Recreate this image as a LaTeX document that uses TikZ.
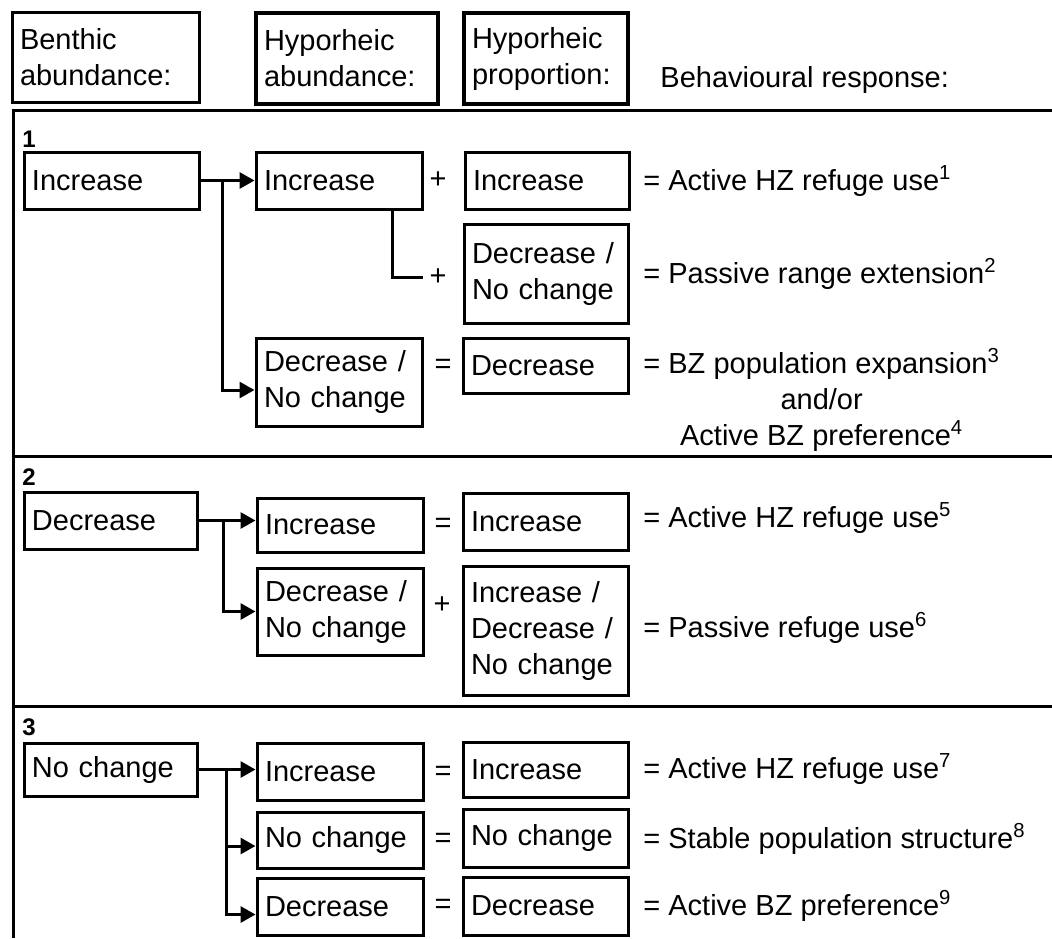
\documentclass[tikz,border=0pt]{standalone}
\usepackage{fontspec}
\setmainfont{Liberation Sans}
\usetikzlibrary{arrows.meta}
\newcommand\bx[7][box]{%
  \pgfmathsetmacro\bxw{(#5-#3)*0.5-8}%
  \pgfmathsetmacro\bxh{(#6-#4)*0.5}%
  \node[#1, text width=\bxw pt, minimum height=\bxh pt] (#2) at ({(#3+#5)/2},{(#4+#6)/2}) {#7};}
\begin{document}
\begin{tikzpicture}[x=0.5pt,y=-0.5pt,
  every node/.style={font=\fontsize{14.5}{18}\selectfont},
  box/.style={draw, line width=1.5pt, align=left, inner xsep=4pt, inner ysep=0pt},
  hbox/.style={box, line width=2pt},
  sym/.style={inner sep=1pt},
  resp/.style={anchor=base west, inner sep=0pt},
  num/.style={anchor=base west, inner sep=0pt, font=\fontsize{12}{14}\selectfont\bfseries},
  conn/.style={line width=1.5pt, -{Triangle[length=7.5pt,width=8pt]}},
  link/.style={line width=1.5pt},
  frame/.style={line width=1.5pt}]
\useasboundingbox (0,0) rectangle (1052,938);

% header
\bx{hb}{12}{12}{199}{102}{Benthic\\abundance:}
\bx[hbox]{ha}{256}{13}{438}{104}{Hyporheic\\abundance:}
\bx[hbox]{hp}{464}{13}{628}{104}{Hyporheic\\proportion:}
\node[resp] (hr) at (660,87) {Behavioural response:};

% frame
\coordinate (fTL) at (13,110);
\coordinate (fTR) at (1052,110);
\coordinate (fBL) at (13,938);
\coordinate (d1L) at (13,456);
\coordinate (d1R) at (1052,456);
\coordinate (d2L) at (13,706);
\coordinate (d2R) at (1052,706);
\draw[frame] (fTR) -- (fTL) -- (fBL);
\draw[frame] (d1L) -- (d1R);
\draw[frame] (d2L) -- (d2R);

% section 1
\node[num] (n1) at (22,147) {1};
\bx{b1}{24}{152}{199}{209}{Increase}
\bx{h1a}{256}{152}{422}{209}{Increase}
\bx{p1a}{465}{152}{629}{209}{Increase}
\bx{p1b}{464}{224}{628}{323}{Decrease /\\No change}
\bx{h1c}{256}{338}{422}{426}{Decrease /\\No change}
\bx{p1c}{463}{338}{628}{393}{Decrease}
\node[sym] (s1a) at (438,180) {+};
\node[sym] (s1b) at (438,277) {+};
\node[sym] (s1c) at (443,366) {=};
\node[resp] (r1a) at (643,190) {= Active HZ refuge use\textsuperscript{1}};
\node[resp] (r1b) at (643,283) {= Passive range extension\textsuperscript{2}};
\node[resp, align=center] (r1c) at (643,445) {= BZ population expansion\textsuperscript{3}\\and/or\\Active BZ preference\textsuperscript{4}};
\coordinate (j1) at (222,0);
\coordinate (k1) at (392,0);
\draw[conn] (b1.east) -- (b1.east -| h1a.west);
\draw[conn] (b1.east -| j1) |- ([yshift=-4pt]h1c.west);
\draw[link] (h1a.south -| k1) |- ([xshift=-2pt]s1b.west);

% section 2
\node[num] (n2) at (22,485) {2};
\bx{b2}{24}{492}{197}{549}{Decrease}
\bx{h2a}{257}{498}{423}{552}{Increase}
\bx{p2a}{463}{493}{628}{550}{Increase}
\bx{h2b}{257}{568}{423}{655}{Decrease /\\No change}
\bx{p2b}{463}{566}{628}{695}{Increase /\\Decrease /\\No change}
\node[sym] (s2a) at (443,525) {=};
\node[sym] (s2b) at (442,605) {+};
\node[resp] (r2a) at (643,527) {= Active HZ refuge use\textsuperscript{5}};
\node[resp] (r2b) at (643,637) {= Passive refuge use\textsuperscript{6}};
\coordinate (j2) at (223,0);
\draw[conn] (b2.east) -- (b2.east -| h2a.west);
\draw[conn] (b2.east -| j2) |- (h2b.west);

% section 3
\node[num] (n3) at (22,735) {3};
\bx{b3}{24}{743}{197}{796}{No change}
\bx{h3a}{257}{743}{423}{800}{Increase}
\bx{p3a}{463}{742}{628}{797}{Increase}
\bx{h3b}{257}{812}{423}{868}{No change}
\bx{p3b}{463}{809}{628}{867}{No change}
\bx{h3c}{257}{878}{423}{935}{Decrease}
\bx{p3c}{463}{877}{628}{935}{Decrease}
\node[sym] (s3a) at (443,773) {=};
\node[sym] (s3b) at (443,840) {=};
\node[sym] (s3c) at (443,906) {=};
\node[resp] (r3a) at (643,778) {= Active HZ refuge use\textsuperscript{7}};
\node[resp] (r3b) at (643,848) {= Stable population structure\textsuperscript{8}};
\node[resp] (r3c) at (643,915) {= Active BZ preference\textsuperscript{9}};
\coordinate (j3) at (226,0);
\draw[conn] (b3.east) -- (b3.east -| h3a.west);
\draw[conn] (b3.east -| j3) |- ([yshift=-3pt]h3b.west);
\draw[conn] (b3.east -| j3) |- ([yshift=-4pt]h3c.west);
\end{tikzpicture}
\end{document}
